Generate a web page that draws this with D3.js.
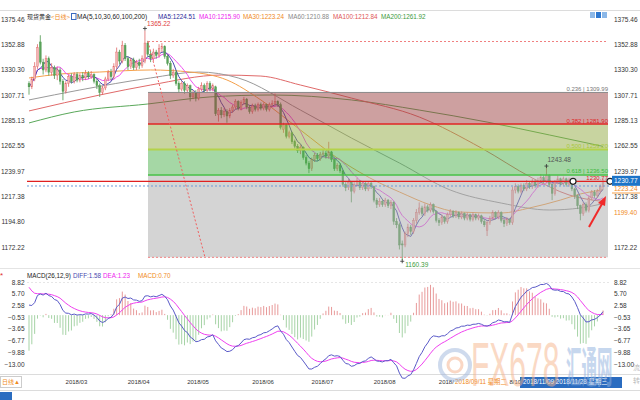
<!DOCTYPE html>
<html><head><meta charset="utf-8">
<script src="https://cdn.jsdelivr.net/npm/d3@7"></script>
<style>body{margin:0;background:#fff}svg{display:block}</style>
</head><body><svg id="c" width="640" height="400"></svg>
<script>
// ---------------- DATA ----------------
const opens=[1318,1315,1322,1333,1355,1337,1330,1340,1328,1332,1325,1330,1320,1311,1318,1324,1320,1326,1321,1325,
1323,1327,1324,1326,1320,1316,1310,1314,1322,1328,1324,1333,1346,1338,1352,1340,1333,1339,1332,1337,
1334,1338,1354,1344,1340,1346,1343,1349,1351,1342,1336,1325,1328,1318,1313,1318,1312,1316,1306,1310,
1305,1313,1316,1312,1318,1313,1315,1290,1294,1290,1293,1289,1294,1297,1302,1296,1301,1304,1297,1293,
1298,1295,1299,1296,1299,1295,1299,1300,1302,1299,1277,1281,1271,1274,1266,1262,1258,1261,1252,1247,
1242,1250,1254,1251,1255,1256,1253,1257,1250,1242,1245,1240,1228,1225,1230,1222,1228,1231,1225,1229,
1224,1229,1226,1214,1210,1213,1210,1214,1209,1212,1195,1192,1175,1174,1184,1190,1186,1196,1203,1207,
1202,1208,1205,1210,1204,1196,1194,1199,1195,1201,1204,1200,1203,1199,1202,1198,1201,1197,1201,1198,
1200,1195,1187,1194,1198,1203,1199,1203,1196,1193,1197,1194,1223,1226,1222,1227,1224,1229,1226,1230,
1227,1231,1234,1231,1236,1228,1220,1230,1233,1229,1233,1228,1232,1224,1218,1209,1202,1210,1205,1216,
1221,1218,1222,1226];
const highs=[1320,1324,1337,1353,1361,1340,1343,1342,1336,1334,1333,1332,1322,1320,1326,1327,1328,1328,1327,1328,
1330,1329,1329,1327,1322,1318,1316,1324,1330,1331,1336,1350,1348,1356,1354,1342,1341,1341,1339,1340,
1343,1365.22,1356,1347,1349,1348,1353,1354,1352,1344,1338,1331,1330,1320,1320,1320,1318,1317,1312,1312,
1315,1319,1318,1320,1320,1318,1316,1296,1297,1296,1295,1296,1299,1304,1303,1303,1306,1305,1299,1300,
1300,1301,1301,1301,1300,1301,1303,1309,1303,1301,1283,1282,1276,1275,1268,1264,1263,1262,1254,1249,
1252,1256,1256,1257,1259,1258,1266,1258,1251,1247,1247,1241,1230,1233,1231,1230,1234,1232,1231,1230,
1231,1231,1227,1216,1216,1215,1216,1215,1214,1213,1198,1194,1178,1186,1193,1192,1198,1206,1212,1209,
1211,1210,1212,1211,1205,1198,1201,1200,1203,1206,1205,1205,1204,1204,1203,1203,1202,1203,1202,1202,
1201,1197,1196,1200,1205,1204,1205,1204,1198,1199,1198,1226,1229,1228,1229,1229,1232,1231,1233,1232,
1234,1237,1236,1243.48,1237,1229,1232,1236,1234,1235,1234,1234,1233,1225,1219,1210,1212,1212,1218,1223,
1223,1224,1228,1233];
const lows=[1308,1313,1320,1331,1335,1326,1328,1325,1325,1322,1321,1317,1303,1309,1315,1318,1318,1319,1319,1320,
1321,1322,1322,1318,1313,1306,1308,1312,1320,1321,1322,1331,1335,1336,1338,1330,1331,1330,1330,1331,
1332,1336,1342,1337,1338,1340,1341,1346,1340,1334,1322,1323,1316,1310,1311,1309,1310,1302,1304,1302,
1303,1311,1310,1310,1311,1311,1289,1284,1287,1288,1283,1287,1292,1295,1294,1294,1299,1295,1291,1291,
1293,1293,1294,1294,1293,1293,1297,1298,1297,1277,1274,1269,1269,1264,1260,1256,1255,1250,1245,1238,
1240,1248,1249,1249,1253,1251,1251,1248,1240,1240,1238,1226,1222,1223,1212,1220,1226,1223,1223,1222,
1222,1224,1212,1207,1208,1208,1208,1207,1206,1192,1189,1170,1160.39,1172,1181,1183,1184,1193,1201,1200,
1200,1203,1203,1202,1194,1191,1192,1193,1193,1199,1198,1198,1197,1197,1196,1196,1195,1195,1196,1196,
1193,1190,1182,1192,1196,1197,1197,1194,1190,1191,1192,1192,1220,1220,1220,1222,1222,1224,1224,1225,
1225,1229,1229,1229,1226,1214,1218,1228,1227,1227,1226,1226,1222,1215,1206,1196,1200,1203,1203,1214,
1216,1216,1220,1224];
const closes=[1315,1322,1333,1350,1337,1330,1340,1328,1332,1325,1330,1320,1311,1318,1324,1320,1326,1321,1325,1323,
1327,1324,1326,1320,1316,1310,1314,1322,1328,1324,1333,1346,1338,1352,1340,1333,1339,1332,1337,1334,
1340,1354,1344,1340,1346,1343,1349,1351,1342,1336,1325,1328,1318,1313,1318,1312,1316,1306,1310,1305,
1313,1316,1312,1318,1313,1316,1291,1294,1290,1293,1289,1294,1297,1302,1296,1301,1304,1297,1293,1298,
1295,1299,1296,1299,1295,1299,1300,1302,1299,1279,1281,1271,1274,1266,1262,1258,1261,1252,1247,1242,
1250,1254,1251,1255,1256,1253,1257,1250,1242,1245,1240,1228,1225,1230,1222,1228,1231,1225,1229,1224,
1229,1226,1214,1210,1213,1210,1214,1209,1212,1195,1192,1174,1174,1184,1190,1186,1196,1203,1207,1202,
1208,1205,1210,1204,1196,1194,1199,1195,1201,1204,1200,1203,1199,1202,1198,1201,1197,1201,1198,1200,
1195,1192,1194,1198,1203,1199,1203,1196,1193,1197,1194,1223,1226,1222,1227,1224,1229,1226,1230,1227,
1231,1234,1231,1236,1228,1220,1230,1233,1229,1233,1228,1232,1224,1218,1209,1202,1210,1205,1216,1221,
1218,1222,1226,1230.77];

// long moving averages: [candle index, value]
const ma30Pts=[[0,1322.9],[11,1326.4],[25,1328.2],[43,1330.0],[57,1328.2],[70,1321.1],[82,1303.3],[96,1276.5],[110,1249.8],[124,1229.3],[131,1221.3],[142,1209.7],[152,1203.4],[167,1202.5],[177,1207.0],[188,1214.1],[195,1219.5],[203,1223.24]];
const ma60Pts=[[0,1303.3],[18,1312.2],[43,1322.9],[60,1328.2],[74,1322.9],[96,1294.3],[114,1269.4],[131,1247.1],[149,1223.0],[167,1211.4],[184,1205.2],[195,1207.0],[203,1210.88]];
const ma100Pts=[[0,1293.5],[25,1307.7],[43,1316.6],[68,1325.5],[82,1324.6],[96,1316.6],[114,1305.0],[138,1288.1],[160,1260.4],[178,1233.7],[191,1218.6],[203,1212.84]];
const ma200Pts=[[0,1282.8],[16,1292.6],[42,1299.7],[64,1306.0],[86,1307.7],[114,1303.3],[138,1294.3],[162,1283.6],[184,1272.1],[203,1261.92]];

const priceTicks=[1375.46,1352.88,1330.30,1307.71,1285.13,1262.55,1239.97,1217.38,1194.80,1172.22];
const macdTicks=[8.82,5.70,2.58,-0.53,-3.65,-6.77,-9.88,-13.00];
// visible date labels (the tooltip hides the rest)
const monthLabels=["2018/03","2018/04","2018/05","2018/06","2018/07","2018/08","2018/","8/10"];
const monthIdx=[14,36,57,80,101,123,146,171];
const fibRatios=[0,0.236,0.382,0.5,0.618,1];
const fibRange=[1355.39,1163.02];
const lastPrice=1230.77, dottedPrice=1226.6;
const macdSeeds=[1322,1318.5,8.6]; // ema12, ema26, dea before first candle
const headerMA=[["MA5:1224.51","#2b2b9a"],["MA10:1215.90","#ee22ee"],["MA30:1223.24","#f08a1c"],["MA60:1210.88","#888888"],["MA100:1212.84","#e05555"],["MA200:1261.92","#3c9a3c"]];

// ---------------- DRAWING ----------------
const svg=d3.select("#c");
const N=closes.length;
const x=d3.scaleLinear().domain([0,N-1]).range([29,603]);
const y=d3.scaleLinear().domain([1172.22,1375.46]).range([247,19]);
const ym=d3.scaleLinear().domain([-13,8.82]).range([364,282]);
const FONT="'Liberation Sans', 'Noto Sans CJK SC', sans-serif";
const fmt=d3.format(".2f");

function txt(g,px,py,s,col,anchor,size){
  const t=g.append("text").attr("x",px).attr("y",py).text(s).attr("fill",col)
   .attr("font-family",FONT).attr("font-size",size||6.5).attr("dominant-baseline","middle");
  if(anchor) t.attr("text-anchor",anchor);
  return t;
}

// frame lines
svg.append("line").attr("x1",0).attr("x2",640).attr("y1",10.5).attr("y2",10.5).attr("stroke","#dcdcdc");
svg.append("line").attr("x1",0).attr("x2",640).attr("y1",268.5).attr("y2",268.5).attr("stroke","#e4e4e4");
svg.append("line").attr("x1",0).attr("x2",640).attr("y1",374.5).attr("y2",374.5).attr("stroke","#dcdcdc");
svg.append("line").attr("x1",0).attr("x2",640).attr("y1",390.5).attr("y2",390.5).attr("stroke","#dcdcdc");

// MA lines
const lineGen=d3.line().x(d=>x(d[0])).y(d=>y(d[1])).curve(d3.curveMonotoneX);
const maG=svg.append("g").attr("fill","none").attr("stroke-width",1);
maG.append("path").attr("d",lineGen(ma200Pts)).attr("stroke","#5aa85a");
maG.append("path").attr("d",lineGen(ma100Pts)).attr("stroke","#e06a6a");
maG.append("path").attr("d",lineGen(ma60Pts)).attr("stroke","#9a9a9a");
maG.append("path").attr("d",lineGen(ma30Pts)).attr("stroke","#f5a04a");
function ma(n){return closes.map((c,i)=>[i,d3.mean(closes.slice(Math.max(0,i-n+1),i+1))]);}
const lin=d3.line().x(d=>x(d[0])).y(d=>y(d[1]));
maG.append("path").attr("d",lin(ma(10))).attr("stroke","#f050f0");
maG.append("path").attr("d",lin(ma(5))).attr("stroke","#4a4ab0");

// candles
const cg=svg.append("g");
closes.forEach((c,i)=>{
  const up=c>=opens[i];
  const col=up?"#e06666":"#4e974e";
  cg.append("line").attr("x1",x(i)).attr("x2",x(i)).attr("y1",y(highs[i])).attr("y2",y(lows[i])).attr("stroke",col).attr("stroke-width",0.8);
  const y0=y(Math.max(c,opens[i])), h=Math.max(0.8,Math.abs(y(c)-y(opens[i])));
  cg.append("rect").attr("x",x(i)-0.9).attr("y",y0).attr("width",1.8).attr("height",h)
    .attr("fill",up?"#f3b4b4":"#5aa35a").attr("stroke",col).attr("stroke-width",0.4);
});

// fibonacci zones (semi-transparent overlay)
const fibLevel=r=>fibRange[0]-r*(fibRange[0]-fibRange[1]);
const fx0=148, fx1=608;
const zoneCols=[null,"rgb(155,65,65)","rgb(145,169,65)","rgb(75,175,75)","rgb(170,170,170)"];
const fz=svg.append("g");
for(let k=1;k<fibRatios.length-1;k++){
  const top=y(fibLevel(fibRatios[k])), bot=y(fibLevel(fibRatios[k+1]));
  fz.append("rect").attr("x",fx0).attr("y",top).attr("width",fx1-fx0).attr("height",bot-top)
    .attr("fill",zoneCols[k]).attr("fill-opacity",0.5);
}
function hl(r,col,w){fz.append("line").attr("x1",fx0).attr("x2",fx1).attr("y1",y(fibLevel(r))).attr("y2",y(fibLevel(r))).attr("stroke",col).attr("stroke-width",w);}
hl(0.236,"#8a8a8a",1); hl(0.382,"#e02424",1.5); hl(0.5,"#b4d24a",2); hl(0.618,"#46c046",1.5);
[0,1].forEach(r=>fz.append("line").attr("x1",fx0).attr("x2",fx1).attr("y1",y(fibLevel(r))).attr("y2",y(fibLevel(r))).attr("stroke","#f08080").attr("stroke-dasharray","2,2"));
fz.append("line").attr("x1",x(41)+3).attr("y1",y(fibLevel(0))).attr("x2",205).attr("y2",y(fibLevel(1))).attr("stroke","#f06060").attr("stroke-dasharray","2,2");

// fib labels
const fl=svg.append("g");
txt(fl,608,y(fibLevel(0.236))-3,"0.236 | 1309.99","#777","end",6);
txt(fl,608,y(fibLevel(0.382))-3,"0.382 | 1281.90","#e02424","end",6);
txt(fl,608,y(fibLevel(0.5))-3,"0.500 | 1259.20","#a8c83a","end",6);
txt(fl,608,y(fibLevel(0.618))-3.3,"0.618 | 1236.50","#3cb83c","end",6);

// last price line, dotted line
svg.append("line").attr("x1",27).attr("x2",610).attr("y1",y(lastPrice)).attr("y2",y(lastPrice)).attr("stroke","#e02020").attr("stroke-width",1.2);
svg.append("line").attr("x1",27).attr("x2",610).attr("y1",y(dottedPrice)).attr("y2",y(dottedPrice)).attr("stroke","#6a9ad8").attr("stroke-dasharray","2,2");
txt(fl,608,y(lastPrice)-3,"1230.77","#e02020","end",6);
[x(192.4),610].forEach(cx=>svg.append("circle").attr("cx",cx).attr("cy",y(lastPrice)).attr("r",3).attr("fill","#fff").attr("stroke","#222").attr("stroke-width",1.2));

// high/low annotations
const ann=svg.append("g");
function plus(px,py,col){ann.append("path").attr("d",`M${px-2},${py}H${px+2}M${px},${py-2}V${py+2}`).attr("stroke",col).attr("stroke-width",0.8);}
plus(x(41),y(1365.22)-2,"#333"); txt(ann,x(41)+2,y(1365.22)-6,"1365.22","#e04040","start",6.5);
plus(x(132),y(1160.39)+1,"#333"); txt(ann,x(132)+3,y(1160.39)+5,"1160.39","#3c9a3c","start",6.5);
plus(x(183),y(1243.48)-1,"#333"); txt(ann,x(183)+1,y(1243.48)-7,"1243.48","#555","start",6.5);

// red arrow
svg.append("line").attr("x1",589).attr("y1",227).attr("x2",603).attr("y2",202).attr("stroke","#f02a2a").attr("stroke-width",2);
svg.append("path").attr("d","M606,196 L598,203 L605,206 Z").attr("fill","#f02a2a");

// price axes
function styleAxis(g,dx){g.select(".domain").remove();g.selectAll("text").attr("x",dx).attr("font-family",FONT).attr("font-size",6.5).attr("fill","#333");}
styleAxis(svg.append("g").attr("transform","translate(25,0)").call(d3.axisLeft(y).tickValues(priceTicks).tickSize(0).tickFormat(fmt)),-0.5);
styleAxis(svg.append("g").attr("transform","translate(613,0)").call(d3.axisRight(y).tickValues(priceTicks.filter(v=>v!==1194.80)).tickSize(0).tickFormat(fmt)),1);
// right price flags
txt(svg,614,189.5,"1223.24","#f08a1c","start",6.5);
svg.append("line").attr("x1",612).attr("x2",640).attr("y1",193).attr("y2",193).attr("stroke","#f5a04a");
svg.append("rect").attr("x",612).attr("y",y(lastPrice)-5.5).attr("width",28).attr("height",10).attr("fill","#1c74c8");
txt(svg,614,y(lastPrice)-0.5,"1230.77","#fff","start",6.5);
txt(svg,614,y(1199.40)-3,"1199.40","#f08a1c","start",6.5);

// header
const hd=svg.append("g");
txt(hd,27,17,"现货黄金","#222","start",6);
txt(hd,51,17,"<日线>","#f08a1c","start",6);
hd.append("rect").attr("x",71.5).attr("y",13.5).attr("width",4.5).attr("height",6).attr("fill","#fff").attr("stroke","#3a6ac0");
txt(hd,77,17,"MA(5,10,30,60,100,200)","#222","start",6.5);
const hx=[158,199,243,288,333,381];
headerMA.forEach((d,i)=>txt(hd,hx[i],17,d[0],d[1],"start",6.3));
[[590,"#8cb8e8"],[596,"#2e78d0"],[602,"#8cb8e8"]].forEach(d=>{hd.append("rect").attr("x",d[0]).attr("y",12).attr("width",5).attr("height",6).attr("fill",d[1]);});

// ---------------- MACD ----------------
const k12=2/13,k26=2/27,k9=2/10;
let e12=macdSeeds[0],e26=macdSeeds[1],dea=macdSeeds[2];
const diffA=[],deaA=[],histA=[];
closes.forEach(c=>{e12+=k12*(c-e12);e26+=k26*(c-e26);const d=e12-e26;dea+=k9*(d-dea);diffA.push(d);deaA.push(dea);histA.push(2*(d-dea));});
const mg=svg.append("g");
mg.append("line").attr("x1",27).attr("x2",610).attr("y1",282.5).attr("y2",282.5).attr("stroke","#e6e6e6").attr("stroke-dasharray","2,2");
histA.forEach((h,i)=>{
  mg.append("line").attr("x1",x(i)).attr("x2",x(i)).attr("y1",ym(0)).attr("y2",ym(h))
    .attr("stroke",h>=0?"#e89a9a":"#a6d3a6").attr("stroke-width",1);
});
const ml=d3.line().x((d,i)=>x(i)).y(d=>ym(d));
mg.append("path").attr("d",ml(deaA)).attr("fill","none").attr("stroke","#f040f0").attr("stroke-width",1);
mg.append("path").attr("d",ml(diffA)).attr("fill","none").attr("stroke","#5a5ac8").attr("stroke-width",1);
styleAxis(svg.append("g").attr("transform","translate(25,0)").call(d3.axisLeft(ym).tickValues(macdTicks).tickSize(0).tickFormat(fmt)),-0.5);
styleAxis(svg.append("g").attr("transform","translate(613,0)").call(d3.axisRight(ym).tickValues(macdTicks).tickSize(0).tickFormat(fmt)),1);
txt(svg,0,276,"*","#e03030","start",8);
txt(svg,27,276,"MACD(26,12,9)","#222","start",6.3);
txt(svg,73,276,"DIFF:1.58","#4a4ab0","start",6.3);
txt(svg,103,276,"DEA:1.23","#ee22ee","start",6.3);
txt(svg,138,276,"MACD:0.70","#f08a1c","start",6.3);

// ---------------- date axis ----------------
const dg=svg.append("g");
dg.append("rect").attr("x",0.5).attr("y",376.5).attr("width",21).attr("height",11).attr("fill","#fff").attr("stroke","#ccc");
txt(dg,2,382.5,"日线▲","#f08a1c","start",6);
monthLabels.forEach((m,i)=>txt(dg,x(monthIdx[i])-3,382.5,m,"#333","start",6));
txt(dg,455,382.5,"2018/09/11 星期二","#f08a1c","start",6.3);
dg.append("rect").attr("x",520).attr("y",377).attr("width",102).attr("height",11).attr("fill","#2a6cc0");
txt(dg,523,382.5,"2018/11/09  2018/11/28  星期三","#fff","start",6.3);
dg.append("rect").attr("x",0).attr("y",392).attr("width",12).attr("height",8).attr("fill","#2a6cc0");

// ---------------- watermark ----------------
const wm=svg.append("g").attr("opacity",0.5);
wm.append("circle").attr("cx",455).attr("cy",365).attr("r",15).attr("fill","none").attr("stroke","#9fb6dc").attr("stroke-width",4);
wm.append("circle").attr("cx",455).attr("cy",365).attr("r",7).attr("fill","none").attr("stroke","#f6b08a").attr("stroke-width",3);
wm.append("text").attr("transform","translate(471,386) scale(1,2.1)").text("FX678").attr("fill","#f7b48a").attr("font-family","'Liberation Sans'").attr("font-size",30);
wm.append("text").attr("transform","translate(566,383) scale(1,2.8)").text("汇通网").attr("fill","#8fb0de").attr("font-family","'Noto Sans CJK SC'").attr("font-weight","bold").attr("font-size",15.5);
txt(svg,633,368,"流","#bbb","start",7);
txt(svg,633,381,"转","#bbb","start",7);
</script></body></html>
